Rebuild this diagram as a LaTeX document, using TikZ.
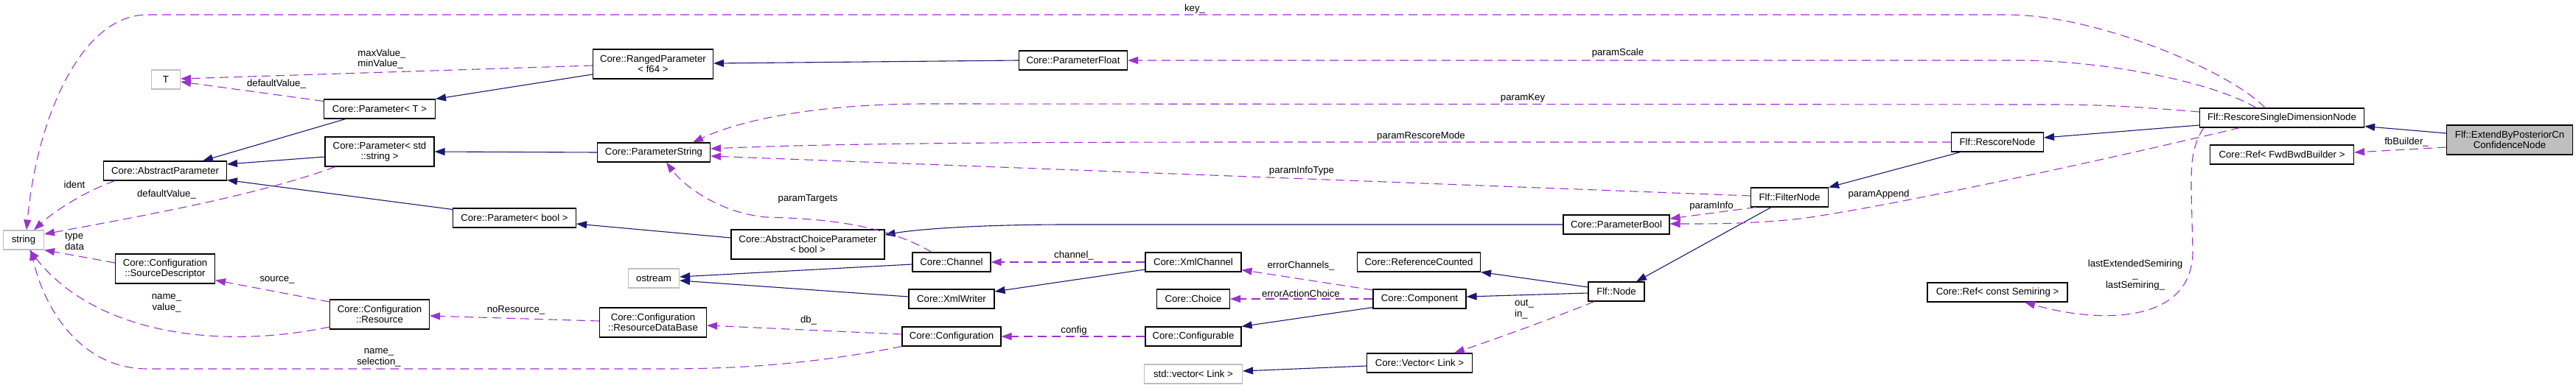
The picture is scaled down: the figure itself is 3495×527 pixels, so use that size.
\documentclass[tikz,border=0pt]{standalone}
\usepackage{fontspec}
\setmainfont{Liberation Sans}
\usetikzlibrary{arrows.meta}

\definecolor{inhblue}{RGB}{25,25,112}
\definecolor{memberpurple}{RGB}{154,50,205}
\definecolor{extgray}{RGB}{191,191,191}

\begin{document}
\begin{tikzpicture}[x=1pt, y=-1pt, font=\fontsize{13.2}{14.5}\selectfont,
  cls/.style={draw, line width=1.1pt, fill=white, inner sep=0pt, align=center, minimum height=26pt},
  twoline/.style={minimum height=40pt},
  ext/.style={cls, draw=extgray},
  mainCls/.style={cls, fill=extgray},
  inh/.style={inhblue, line width=1.1pt, -{Triangle[length=14pt,width=10pt]}},
  member/.style={memberpurple, line width=1.1pt, dash pattern=on 12pt off 7pt, -{Triangle[length=14pt,width=10pt]}},
  lbl/.style={align=center, inner sep=0pt}]
  \useasboundingbox (0,0) rectangle (3495,527);

  % classes
  \node[ext, minimum width=55pt] (string) at (32,326) {string};
  \node[ext, minimum width=39pt] (tType) at (225,108) {T};
  \node[cls, minimum width=151pt] (ptT) at (515,148) {Core::Parameter< T >};
  \node[cls, twoline, minimum width=148pt] (ptStr) at (515,206) {Core::Parameter< std\\::string >};
  \node[cls, minimum width=167pt] (absParam) at (224,232) {Core::AbstractParameter};
  \node[cls, twoline, minimum width=135pt] (srcDesc) at (224,365) {Core::Configuration\\::SourceDescriptor};
  \node[cls, twoline, minimum width=135pt] (resource) at (515,427) {Core::Configuration\\::Resource};
  \node[cls, twoline, minimum width=163pt] (ranged) at (886,87) {Core::RangedParameter\\< f64 >};
  \node[cls, minimum width=153pt] (paramStr) at (887,207) {Core::ParameterString};
  \node[cls, minimum width=167pt] (ptBool) at (698,296) {Core::Parameter< bool >};
  \node[cls, twoline, minimum width=208pt] (choice) at (1096,332) {Core::AbstractChoiceParameter\\< bool >};
  \node[ext, minimum width=69pt] (ostream) at (887,378) {ostream};
  \node[cls, twoline, minimum width=145pt] (resDB) at (886,438) {Core::Configuration\\::ResourceDataBase};
  \node[cls, minimum width=147pt] (paramFloat) at (1456,82) {Core::ParameterFloat};
  \node[cls, minimum width=106pt] (channel) at (1291,356) {Core::Channel};
  \node[cls, minimum width=116pt] (xmlWriter) at (1291,406) {Core::XmlWriter};
  \node[cls, minimum width=130pt] (xmlChannel) at (1619,356) {Core::XmlChannel};
  \node[cls, minimum width=99pt] (choiceCls) at (1619,406) {Core::Choice};
  \node[cls, minimum width=134pt] (config) at (1291,457) {Core::Configuration};
  \node[cls, minimum width=130pt] (configurable) at (1619,457) {Core::Configurable};
  \node[ext, minimum width=133pt] (stdVector) at (1619,508) {std::vector< Link >};
  \node[cls, minimum width=144pt] (paramBool) at (2193,305) {Core::ParameterBool};
  \node[cls, minimum width=167pt] (refCounted) at (1925,356) {Core::ReferenceCounted};
  \node[cls, minimum width=126pt] (component) at (1926,406) {Core::Component};
  \node[cls, minimum width=76pt] (flfNode) at (2193,396) {Flf::Node};
  \node[cls, minimum width=143pt] (coreVector) at (1926,493) {Core::Vector< Link >};
  \node[cls, minimum width=125pt] (rescoreNode) at (2710,193) {Flf::RescoreNode};
  \node[cls, minimum width=105pt] (filterNode) at (2428,268) {Flf::FilterNode};
  \node[cls, minimum width=190pt] (semiring) at (2710,397) {Core::Ref< const Semiring >};
  \node[cls, minimum width=223pt] (rsdn) at (3096,160) {Flf::RescoreSingleDimensionNode};
  \node[cls, minimum width=195pt] (fwdBwd) at (3096,210) {Core::Ref< FwdBwdBuilder >};
  \node[mainCls, twoline, minimum width=171pt] (extend) at (3405,190) {Flf::ExtendByPosteriorCn\\ConfidenceNode};

  % inheritance
  \draw[inh] ([xshift=-46pt]ptT.south) -- ([xshift=51pt]absParam.north);
  \draw[inh] ([yshift=-7pt]ptStr.west) -- ([yshift=9pt]absParam.east);
  \draw[inh] ([yshift=-2pt]ptBool.north west) -- ([yshift=1pt]absParam.south east);
  \draw[inh] ([yshift=-14pt]ranged.west) -- (ptT.north east);
  \draw[inh] (paramStr.west) -- (ptStr.east);
  \draw[inh] (paramFloat.west) -- ([yshift=1pt]ranged.east);
  \draw[inh] ([yshift=9pt]choice.west) -- ([yshift=-8pt]ptBool.east);
  \draw[inh] (paramBool.west) -- (1450,305) .. controls (1320,305) and (1240,312) .. ([yshift=13pt]choice.east);
  \draw[inh] ([yshift=-3pt]channel.west) -- ([yshift=2pt]ostream.east);
  \draw[inh] ([yshift=3pt]xmlWriter.west) -- ([yshift=-3pt]ostream.east);
  \draw[inh] ([yshift=-10pt]xmlChannel.west) -- ([yshift=10pt]xmlWriter.east);
  \draw[inh] ([yshift=6pt]flfNode.west) -- (refCounted.south east);
  \draw[inh] ([yshift=-2pt]flfNode.west) -- ([yshift=3pt]component.east);
  \draw[inh] ([yshift=2pt]component.south west) -- (configurable.north east);
  \draw[inh] ([yshift=-4pt]coreVector.west) -- ([yshift=4pt]stdVector.east);
  \draw[inh] ([xshift=-25pt]filterNode.south) -- ([xshift=27pt]flfNode.north);
  \draw[inh] ([xshift=-50pt]rescoreNode.south) -- (filterNode.north east);
  \draw[inh] ([yshift=-10pt]rsdn.west) -- ([yshift=6pt]rescoreNode.east);
  \draw[inh] ([yshift=9pt]extend.west) -- ([yshift=2pt]rsdn.south east);

  % members
  \draw[member] ([xshift=-23pt]rsdn.north) .. controls (3030,100) and (2850,20) .. (2722,20) -- (200,20) .. controls (110,20) and (50,160) .. ([xshift=4pt]string.north);
  \draw[member] ([xshift=-35pt]rsdn.north) .. controls (3000,110) and (2850,82) .. (2739,82) -- (paramFloat.east);
  \draw[member] ([yshift=8pt]rsdn.west) .. controls (2900,145) and (2850,142) .. (2780,142) -- (1260,141) .. controls (1100,141) and (1000,165) .. ([xshift=53pt]paramStr.north);
  \draw[member] (rescoreNode.west) -- (1700,193) .. controls (1300,193) and (1100,196) .. ([yshift=5pt]paramStr.east);
  \draw[member] ([yshift=2pt]filterNode.west) -- ([yshift=-5pt]paramStr.east);
  \draw[member] ([xshift=-27pt]channel.north) .. controls (1200,305) and (1120,297) .. (1040,295) .. controls (980,290) and (930,255) .. ([xshift=17pt]paramStr.south);
  \draw[member] ([xshift=-57pt]rsdn.south) .. controls (2800,230) and (2560,280) .. (2450,296) .. controls (2380,305) and (2300,304) .. ([yshift=1pt]paramBool.east);
  \draw[member] ([xshift=-46pt]filterNode.south) -- ([yshift=8pt]paramBool.east);
  \draw[member] ([yshift=-10pt]extend.west) -- ([yshift=3pt]fwdBwd.east);
  \draw[member] ([xshift=-106pt]rsdn.south) .. controls (2972,200) and (2973,230) .. (2973,260) -- (2975,340) .. controls (2976,440) and (2850,440) .. ([xshift=37pt]semiring.south);
  \draw[member] ([xshift=-30pt]flfNode.south) .. controls (2100,435) and (2030,460) .. ([xshift=47pt]coreVector.north);
  \draw[member] ([yshift=-1.5pt]component.north west) -- ([yshift=3pt]xmlChannel.south east);
  \draw[member] (component.west) -- (choiceCls.east);
  \draw[member] (configurable.west) -- (config.east);
  \draw[member] (xmlChannel.west) -- (channel.east);
  \draw[member] ([yshift=3pt]config.west) -- ([yshift=-4pt]resDB.east);
  \draw[member] ([yshift=2pt]resDB.west) -- ([yshift=-2pt]resource.east);
  \draw[member] ([yshift=-3.5pt]resource.north west) -- ([yshift=5pt]srcDesc.south east);
  \draw[member] ([yshift=3.5pt]resource.south west) .. controls (300,475) and (130,455) .. ([xshift=8pt]string.south);
  \draw[member] (config.south west) .. controls (1100,495) and (1000,501) .. (900,501) -- (200,501) .. controls (110,501) and (60,420) .. ([xshift=10pt]string.south);
  \draw[member] ([xshift=-60pt]ptStr.south) .. controls (350,265) and (200,292) .. ([yshift=8pt]string.east);
  \draw[member] ([xshift=16pt]absParam.south west) .. controls (110,262) and (70,290) .. ([xshift=14pt]string.north);
  \draw[member] ([yshift=8pt]srcDesc.west) -- (string.south east);
  \draw[member] ([yshift=-3pt]ptT.north west) -- ([yshift=-3pt]tType.east);
  \draw[member] ([yshift=-2pt]ranged.west) -- ([yshift=1pt]tType.east);

  % member labels
  \node[lbl] (lKey) at (1621,12) {key\_};
  \node[lbl] (lScale) at (2195,72) {paramScale};
  \node[lbl] (lParamKey) at (2066,133) {paramKey};
  \node[lbl] (lMode) at (1928,185) {paramRescoreMode};
  \node[lbl] (lInfoType) at (1766,232) {paramInfoType};
  \node[lbl] (lTargets) at (1096,270) {paramTargets};
  \node[lbl] (lAppend) at (2549,264) {paramAppend};
  \node[lbl] (lInfo) at (2322,280) {paramInfo};
  \node[lbl] (lBuilder) at (3265,193) {fbBuilder\_};
  \node[lbl] (lSemiring) at (2897,374) {lastExtendedSemiring\\\_\\lastSemiring\_};
  \node[lbl, align=left] (lOutIn) at (2068,420) {out\_\\in\_};
  \node[lbl] (lErrChan) at (1765,361) {errorChannels\_};
  \node[lbl] (lErrChoice) at (1765,399) {errorActionChoice};
  \node[lbl] (lConfig) at (1457,449) {config};
  \node[lbl] (lChannel) at (1457,347) {channel\_};
  \node[lbl] (lDb) at (1097,435) {db\_};
  \node[lbl] (lNoRes) at (700,421) {noResource\_};
  \node[lbl] (lSource) at (376,380) {source\_};
  \node[lbl] (lNameVal) at (226,412) {name\_\\value\_};
  \node[lbl] (lNameSel) at (514,486) {name\_\\selection\_};
  \node[lbl] (lDefStr) at (226,264) {defaultValue\_};
  \node[lbl] (lIdent) at (101,251) {ident};
  \node[lbl, align=left] (lTypeData) at (101,328) {type\\data};
  \node[lbl] (lDefT) at (375,114) {defaultValue\_};
  \node[lbl, align=left] (lMinMax) at (518,80) {maxValue\_\\minValue\_};
\end{tikzpicture}
\end{document}
